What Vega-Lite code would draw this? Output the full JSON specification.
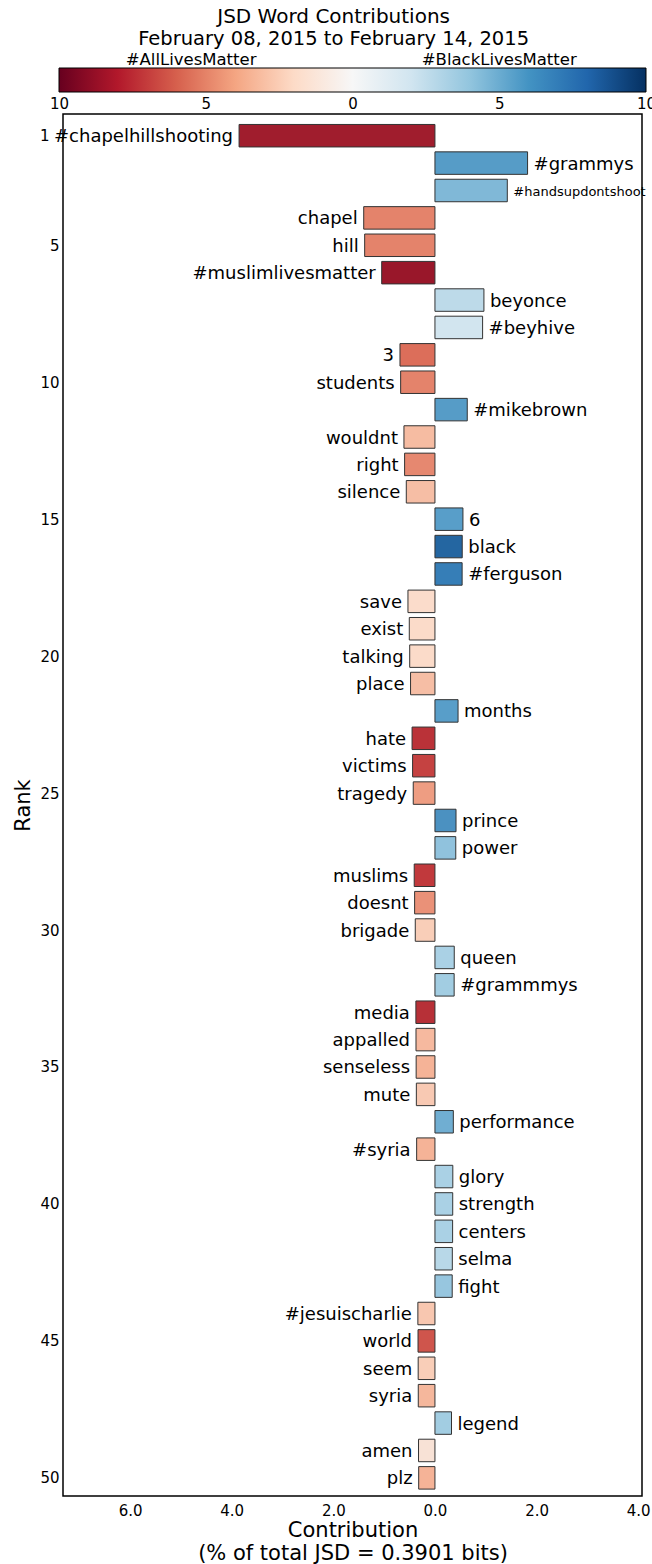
{
  "$schema": "https://vega.github.io/schema/vega-lite/v6.json",
  "background": "white",
  "padding": {"left": 11, "right": 0, "top": 6, "bottom": 0},
  "title": {
    "text": "JSD Word Contributions",
    "subtitle": "February 08, 2015 to February 14, 2015",
    "font": "DejaVu Sans", "fontSize": 20, "fontWeight": "normal", "color": "black",
    "subtitleFont": "DejaVu Sans", "subtitleFontSize": 19.5, "subtitleColor": "black",
    "subtitlePadding": 3, "anchor": "middle", "offset": 4
  },
  "config": {
    "view": {"stroke": "black", "strokeWidth": 1.5},
    "axis": {
      "grid": false, "ticks": false, "domain": false,
      "labelFont": "DejaVu Sans", "labelFontSize": 15, "labelColor": "black",
      "titleFont": "DejaVu Sans", "titleFontSize": 21, "titleFontWeight": "normal", "titleColor": "black"
    }
  },
  "datasets": {
    "colorbar": [{"lo": -10, "hi": 10}],
    "sides": [{"side": "#AllLivesMatter", "at": -5.5}, {"side": "#BlackLivesMatter", "at": 5}],
    "words": [
      {"rank": 1, "word": "#chapelhillshooting", "value": -3.855, "shade": -9.2},
      {"rank": 2, "word": "#grammys", "value": 1.823, "shade": 6.3},
      {"rank": 3, "word": "#handsupdontshoot", "value": 1.424, "shade": 4.9},
      {"rank": 4, "word": "chapel", "value": -1.402, "shade": -5.5},
      {"rank": 5, "word": "hill", "value": -1.383, "shade": -5.5},
      {"rank": 6, "word": "#muslimlivesmatter", "value": -1.048, "shade": -9.5},
      {"rank": 7, "word": "beyonce", "value": 0.964, "shade": 2.8},
      {"rank": 8, "word": "#beyhive", "value": 0.938, "shade": 2.0},
      {"rank": 9, "word": "3", "value": -0.688, "shade": -6.2},
      {"rank": 10, "word": "students", "value": -0.675, "shade": -5.5},
      {"rank": 11, "word": "#mikebrown", "value": 0.636, "shade": 6.3},
      {"rank": 12, "word": "wouldnt", "value": -0.61, "shade": -3.4},
      {"rank": 13, "word": "right", "value": -0.597, "shade": -5.3},
      {"rank": 14, "word": "silence", "value": -0.564, "shade": -3.3},
      {"rank": 15, "word": "6", "value": 0.551, "shade": 6.2},
      {"rank": 16, "word": "black", "value": 0.537, "shade": 8.8},
      {"rank": 17, "word": "#ferguson", "value": 0.535, "shade": 7.7},
      {"rank": 18, "word": "save", "value": -0.531, "shade": -1.9},
      {"rank": 19, "word": "exist", "value": -0.505, "shade": -2.0},
      {"rank": 20, "word": "talking", "value": -0.497, "shade": -2.0},
      {"rank": 21, "word": "place", "value": -0.48, "shade": -3.3},
      {"rank": 22, "word": "months", "value": 0.455, "shade": 6.2},
      {"rank": 23, "word": "hate", "value": -0.45, "shade": -8.2},
      {"rank": 24, "word": "victims", "value": -0.44, "shade": -7.6},
      {"rank": 25, "word": "tragedy", "value": -0.427, "shade": -4.6},
      {"rank": 26, "word": "prince", "value": 0.415, "shade": 6.8},
      {"rank": 27, "word": "power", "value": 0.41, "shade": 4.4},
      {"rank": 28, "word": "muslims", "value": -0.408, "shade": -7.9},
      {"rank": 29, "word": "doesnt", "value": -0.4, "shade": -5.0},
      {"rank": 30, "word": "brigade", "value": -0.387, "shade": -2.6},
      {"rank": 31, "word": "queen", "value": 0.38, "shade": 3.5},
      {"rank": 32, "word": "#grammmys", "value": 0.378, "shade": 3.8},
      {"rank": 33, "word": "media", "value": -0.375, "shade": -8.3},
      {"rank": 34, "word": "appalled", "value": -0.373, "shade": -3.5},
      {"rank": 35, "word": "senseless", "value": -0.37, "shade": -3.8},
      {"rank": 36, "word": "mute", "value": -0.366, "shade": -2.8},
      {"rank": 37, "word": "performance", "value": 0.362, "shade": 5.4},
      {"rank": 38, "word": "#syria", "value": -0.36, "shade": -3.8},
      {"rank": 39, "word": "glory", "value": 0.352, "shade": 3.5},
      {"rank": 40, "word": "strength", "value": 0.35, "shade": 3.5},
      {"rank": 41, "word": "centers", "value": 0.348, "shade": 3.5},
      {"rank": 42, "word": "selma", "value": 0.342, "shade": 3.0},
      {"rank": 43, "word": "fight", "value": 0.34, "shade": 4.2},
      {"rank": 44, "word": "#jesuischarlie", "value": -0.336, "shade": -2.9},
      {"rank": 45, "word": "world", "value": -0.333, "shade": -7.0},
      {"rank": 46, "word": "seem", "value": -0.33, "shade": -2.6},
      {"rank": 47, "word": "syria", "value": -0.328, "shade": -3.6},
      {"rank": 48, "word": "legend", "value": 0.326, "shade": 3.8},
      {"rank": 49, "word": "amen", "value": -0.323, "shade": -1.3},
      {"rank": 50, "word": "plz", "value": -0.32, "shade": -3.8}
    ]
  },
  "bounds": "flush",
  "center": true,
  "spacing": 22,
  "vconcat": [
    {
      "width": 587,
      "height": 24,
      "view": {"stroke": null},
      "layer": [
        {
          "data": {"name": "colorbar"},
          "mark": {
            "type": "rect",
            "fill": {
              "gradient": "linear", "x1": 0, "y1": 0, "x2": 1, "y2": 0,
              "stops": [
                {"offset": 0.0, "color": "#67001f"},
                {"offset": 0.1, "color": "#b2182b"},
                {"offset": 0.2, "color": "#d6604d"},
                {"offset": 0.3, "color": "#f4a582"},
                {"offset": 0.4, "color": "#fddbc7"},
                {"offset": 0.5, "color": "#f7f7f7"},
                {"offset": 0.6, "color": "#d1e5f0"},
                {"offset": 0.7, "color": "#92c5de"},
                {"offset": 0.8, "color": "#4393c3"},
                {"offset": 0.9, "color": "#2166ac"},
                {"offset": 1.0, "color": "#053061"}
              ]
            },
            "stroke": "black",
            "strokeWidth": 1
          },
          "encoding": {
            "x": {
              "field": "lo", "type": "quantitative",
              "scale": {"domain": [-10, 10], "nice": false, "zero": false},
              "axis": {
                "orient": "bottom", "values": [-10, -5, 0, 5, 10],
                "labelExpr": "'' + abs(datum.value)", "labelFlush": false,
                "labelPadding": 4, "title": null
              }
            },
            "x2": {"field": "hi"}
          }
        },
        {
          "data": {"name": "sides"},
          "mark": {"type": "text", "font": "DejaVu Sans", "fontSize": 16.5, "baseline": "bottom", "dy": 0, "color": "black"},
          "encoding": {
            "x": {"field": "at", "type": "quantitative"},
            "y": {"datum": 1, "type": "quantitative", "scale": {"domain": [0, 1]}, "axis": null},
            "text": {"field": "side"}
          }
        }
      ]
    },
    {
      "width": 579,
      "height": 1382,
      "data": {"name": "words"},
      "encoding": {
        "y": {
          "field": "rank", "type": "quantitative",
          "scale": {"domain": [0.39, 50.48], "reverse": true, "nice": false, "zero": false},
          "axis": {
            "values": [1, 5, 10, 15, 20, 25, 30, 35, 40, 45, 50],
            "title": "Rank",
            "labelPadding": {"condition": {"test": "datum.value === 1", "value": 14}, "value": 4},
            "titlePadding": 6
          }
        }
      },
      "layer": [
        {
          "mark": {"type": "bar", "height": 22.5, "stroke": "#333", "strokeWidth": 1},
          "encoding": {
            "x": {
              "field": "value", "type": "quantitative",
              "scale": {"domain": [-7.32, 4.075], "nice": false, "zero": false},
              "axis": {
                "values": [-6, -4, -2, 0, 2, 4],
                "labelExpr": "format(abs(datum.value), '.1f')",
                "labelFlush": false, "labelPadding": 7,
                "title": ["Contribution", "(% of total JSD =  0.3901 bits)"],
                "titlePadding": 1, "titleLineHeight": 23
              }
            },
            "x2": {"datum": 0},
            "fill": {
              "field": "shade", "type": "quantitative",
              "scale": {"scheme": "redblue", "domain": [-10, 10]},
              "legend": null
            }
          }
        },
        {
          "transform": [{"filter": "datum.value < 0"}],
          "mark": {"type": "text", "align": "right", "dx": -6, "baseline": "middle", "dy": 1.5, "font": "DejaVu Sans", "fontSize": 18, "color": "black"},
          "encoding": {
            "x": {"field": "value", "type": "quantitative"},
            "text": {"field": "word"}
          }
        },
        {
          "transform": [{"filter": "datum.value > 0"}],
          "mark": {"type": "text", "align": "left", "dx": 6, "baseline": "middle", "dy": 1.5, "font": "DejaVu Sans", "color": "black"},
          "encoding": {
            "x": {"field": "value", "type": "quantitative"},
            "text": {"field": "word"},
            "size": {"condition": {"test": "length(datum.word) > 12", "value": 13}, "value": 18}
          }
        }
      ]
    }
  ]
}
